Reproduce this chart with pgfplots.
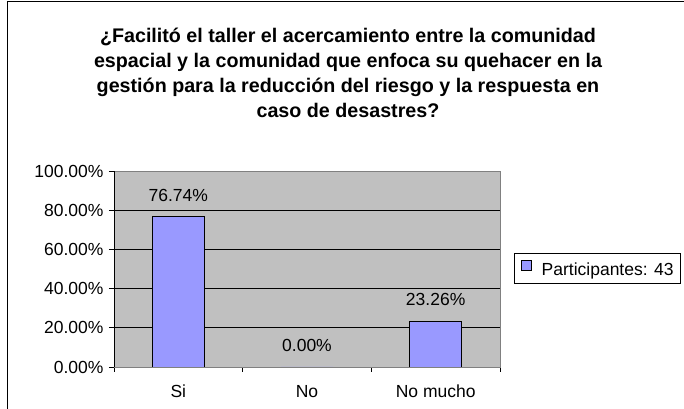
\documentclass[border=0pt]{standalone}
\usepackage{pgfplots}
\pgfplotsset{compat=1.18}
\usepackage{fontspec}
\setmainfont{Liberation Sans}
\definecolor{barfill}{HTML}{9999FF}
\definecolor{plotgray}{HTML}{C0C0C0}
\definecolor{bordergray}{HTML}{808080}
\begin{document}
\begin{tikzpicture}
\path[use as bounding box] (0,0) rectangle (684bp,409bp);
\draw[line width=1bp] (7.5bp,0) -- (7.5bp,407.5bp) -- (684bp,407.5bp);
\node[align=center, font=\bfseries\fontsize{19.7bp}{25.2bp}\selectfont] at (348bp,336bp)
 {¿Facilitó el taller el acercamiento entre la comunidad\\
  espacial y la comunidad que enfoca su quehacer en la\\
  gestión para la reducción del riesgo y la respuesta en\\
  caso de desastres?};
\begin{axis}[
  at={(114bp,42bp)}, anchor=south west,
  scale only axis, width=386bp, height=196bp,
  xmin=-0.5, xmax=2.5, ymin=0, ymax=100,
  ybar, bar width=52bp,
  axis background/.style={fill=plotgray},
  axis line style={draw=bordergray, line width=0.8bp},
  ymajorgrids, major grid style={black, line width=0.7bp},
  ytick={0,20,40,60,80,100},
  yticklabels={0.00\%,20.00\%,40.00\%,60.00\%,80.00\%,100.00\%},
  xtick={-0.5,0.5,1.5,2.5},
  x tick label as interval,
  xticklabels={Si,No,No mucho},
  tick align=outside, xtick pos=bottom, ytick pos=left,
  major tick length=5bp,
  tick style={black, line width=0.7bp},
  tick label style={font=\fontsize{17.5bp}{20bp}\selectfont},
  yticklabel style={xshift=-2bp},
  xticklabel style={anchor=base, yshift=-25.5bp},
  /pgf/number format/assume math mode=true,
  nodes near coords={\pgfmathprintnumber[fixed,fixed zerofill,precision=2]{\pgfplotspointmeta}\%},
  nodes near coords style={anchor=center, yshift=21.5bp, font=\fontsize{17.5bp}{20bp}\selectfont, black},
  legend style={at={(1.4689,0.5026)}, anchor=east, draw=black, line width=0.7bp,
    font=\fontsize{17.5bp}{20bp}\selectfont, inner xsep=7bp, inner ysep=7bp,
    nodes={inner sep=0bp}, /tikz/column sep=0bp},
]
\addplot[fill=barfill, draw=black, line width=0.8bp,
  legend image code/.code={\path[draw=none, fill=none] (0bp,0bp) rectangle (20bp,0bp);
    \draw[fill=barfill, draw=black, line width=0.8bp] (0bp,-0.5bp) rectangle (10bp,9bp);}]
  coordinates {(0,76.74) (1,0) (2,23.26)};
\addlegendentry{Participantes: 43}
\draw[black, line width=0.8bp] (rel axis cs:0,0) -- (rel axis cs:0,1);
\draw[black, line width=0.8bp] (rel axis cs:0,0) -- (rel axis cs:1,0);
\end{axis}
\end{tikzpicture}
\end{document}
